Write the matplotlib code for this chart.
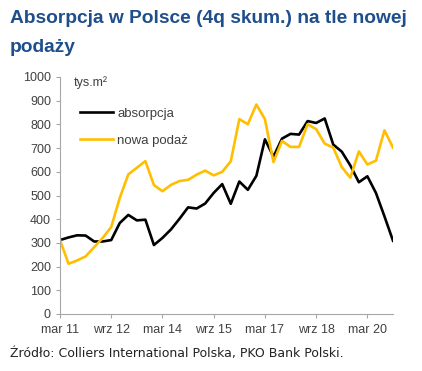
import matplotlib
matplotlib.use("Agg")
import matplotlib.pyplot as plt
import numpy as np

# kwartalne dane, mar 11 - gru 20 (tys. m2, 4q skumulowane)
absorpcja = [312, 323, 332, 331, 306, 306, 312, 384, 418, 395,
             398, 291, 321, 357, 402, 450, 445, 466, 511, 548,
             465, 559, 524, 583, 737, 664, 740, 760, 757, 814,
             806, 825, 715, 685, 627, 556, 581, 511, 412, 309]
nowa_podaz = [312, 212, 226, 243, 282, 321, 367, 490, 589, 617,
              645, 544, 518, 545, 561, 566, 588, 605, 585, 600,
              644, 822, 801, 884, 822, 641, 730, 705, 705, 801,
              780, 719, 702, 620, 575, 686, 631, 647, 775, 702]
tick_pos = [0, 6, 12, 18, 24, 30, 36]
tick_labels = ["mar 11", "wrz 12", "mar 14", "wrz 15", "mar 17", "wrz 18", "mar 20"]

narrow = ["Liberation Sans", "DejaVu Sans"]
grey = "#a6a6a6"
txt = "#404040"

fig = plt.figure(figsize=(4.22, 3.71), dpi=100)
ax = fig.add_axes([60/422, 1-314/371, 333/422, 237/371])

x = np.arange(len(absorpcja))
ax.plot(x, absorpcja, color="black", lw=1.9, label="absorpcja")
ax.plot(x, nowa_podaz, color="#FFBF00", lw=1.9, label="nowa podaż")

ax.set_xlim(0, len(absorpcja) - 1)
ax.set_ylim(0, 1000)
ax.set_yticks(range(0, 1001, 100))
ax.set_xticks(tick_pos)
ax.set_xticklabels(tick_labels)

for s in ["top", "right"]:
    ax.spines[s].set_visible(False)
for s in ["left", "bottom"]:
    ax.spines[s].set_color(grey)
    ax.spines[s].set_linewidth(0.8)
ax.tick_params(axis="both", color=grey, length=3, width=0.8, labelcolor=txt, labelsize=9)
ax.tick_params(axis="x", pad=4)
for lab in ax.get_xticklabels() + ax.get_yticklabels():
    lab.set_family(narrow)

ax.text(0.04, 1.005, "tys.m²", transform=ax.transAxes, va="top", ha="left",
        fontsize=9, color=txt, family=narrow)

leg = ax.legend(loc="upper left", bbox_to_anchor=(0.025, 0.92), frameon=False,
                handlelength=2.5, handletextpad=0.3, labelspacing=1.1,
                prop={"family": narrow, "size": 9.5})
for t in leg.get_texts():
    t.set_color(txt)

title_kw = dict(ha="left", va="baseline", fontsize=13.8, fontweight="bold",
                color="#1f4e8c", family=narrow)
fig.text(10/422, 1-23/371, "Absorpcja w Polsce (4q skum.) na tle nowej", **title_kw)
fig.text(10/422, 1-52/371, "podaży", **title_kw)
fig.text(10/422, 1-354/371, "Źródło: Colliers International Polska, PKO Bank Polski.",
         ha="left", va="center", fontsize=9, color="#222222")

fig.savefig("out.png", dpi=100)
